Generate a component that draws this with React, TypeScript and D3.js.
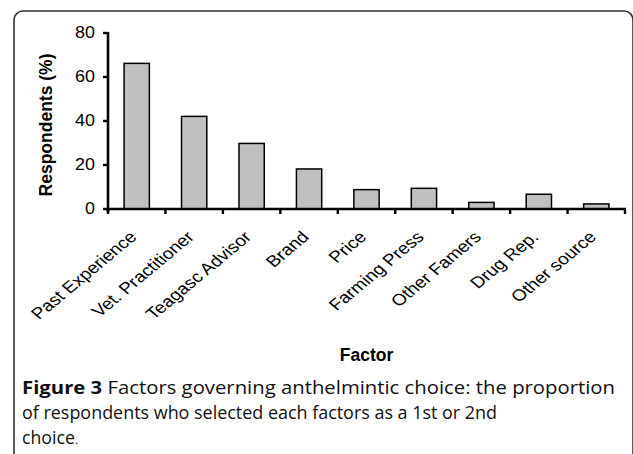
import React from "react";
import * as d3 from "d3";

const categories = [
  "Past Experience",
  "Vet. Practitioner",
  "Teagasc Advisor",
  "Brand",
  "Price",
  "Farming Press",
  "Other Famers",
  "Drug Rep.",
  "Other source",
];
const values = [66.2, 42.1, 29.8, 18.2, 8.8, 9.4, 3.0, 6.7, 2.3];
const yTicks = [0, 20, 40, 60, 80];
const yTitle = "Respondents (%)";
const xTitle = "Factor";

const W = 633;
const H = 454;
const plotLeft = 108;
const plotRight = 625;
const plotTop = 33;
const plotBottom = 209;

export default function App() {
  const x = d3
    .scaleBand<string>()
    .domain(categories)
    .range([plotLeft, plotRight])
    .paddingInner(0.56)
    .paddingOuter(0.28);
  const y = d3.scaleLinear().domain([0, 80]).range([plotBottom, plotTop]);
  const step = x.step();
  const boundaries = d3.range(categories.length + 1).map((i) => plotLeft + i * step);

  return (
    <svg
      width={W}
      height={H}
      style={{ position: "absolute", left: 0, top: 0, display: "block" }}
      fontFamily="Arial, 'Liberation Sans', sans-serif"
    >
      <rect x={0} y={0} width={W} height={H} fill="#fff" />
      {/* frame */}
      <rect
        x={14}
        y={11}
        width={619}
        height={H + 40}
        rx={9}
        ry={9}
        fill="none"
        stroke="#333"
        strokeWidth={1.6}
      />
      {/* bars */}
      {categories.map((c, i) => (
        <rect
          key={c}
          x={x(c)}
          y={y(values[i])}
          width={x.bandwidth()}
          height={plotBottom - y(values[i])}
          fill="#c0c0c0"
          stroke="#000"
          strokeWidth={1.5}
        />
      ))}
      {/* y axis */}
      <line x1={plotLeft} x2={plotLeft} y1={plotTop - 1} y2={plotBottom + 3} stroke="#000" strokeWidth={2.6} />
      {yTicks.map((t) => (
        <g key={t}>
          <line x1={plotLeft - 5} x2={plotLeft} y1={y(t)} y2={y(t)} stroke="#000" strokeWidth={2.4} />
          <g transform={`translate(${plotLeft - 13},${y(t)}) scale(1.12,1)`}>
            <text textAnchor="end" dominantBaseline="central" fontSize={16} fill="#000">
              {t}
            </text>
          </g>
        </g>
      ))}
      {/* x axis */}
      <line x1={plotLeft} x2={plotRight + 1} y1={plotBottom} y2={plotBottom} stroke="#000" strokeWidth={2.6} />
      {boundaries.map((bx, i) => (
        <line key={i} x1={bx} x2={bx} y1={plotBottom} y2={plotBottom + 5} stroke="#000" strokeWidth={2.4} />
      ))}
      {categories.map((c) => (
        <g
          key={c}
          transform={`translate(${(x(c) as number) + x.bandwidth() / 2 + 1},${plotBottom + 29}) scale(1.2,1) rotate(-45)`}
        >
          <text textAnchor="end" fontSize={16} fill="#000">
            {c}
          </text>
        </g>
      ))}
      {/* axis titles */}
      <text
        transform={`translate(52,125) rotate(-90)`}
        textAnchor="middle"
        fontSize={17.5}
        fontWeight="bold"
        fill="#000"
      >
        {yTitle}
      </text>
      <text x={(plotLeft + plotRight) / 2} y={361} textAnchor="middle" fontSize={17.5} fontWeight="bold" fill="#000">
        {xTitle}
      </text>
      {/* caption */}
      <g fontFamily="'Open Sans', 'Noto Sans', sans-serif" fontSize={18} fill="#111">
        <text x={22} y={394} textLength={593} lengthAdjust="spacingAndGlyphs">
          <tspan fontWeight="bold">Figure 3</tspan>
          <tspan> Factors governing anthelmintic choice: the proportion</tspan>
        </text>
        <text x={22} y={419} textLength={475} lengthAdjust="spacingAndGlyphs">
          of respondents who selected each factors as a 1st or 2nd
        </text>
        <text x={22} y={444} textLength={56} lengthAdjust="spacingAndGlyphs">
          choice<tspan fontSize={12}>.</tspan>
        </text>
      </g>
    </svg>
  );
}
